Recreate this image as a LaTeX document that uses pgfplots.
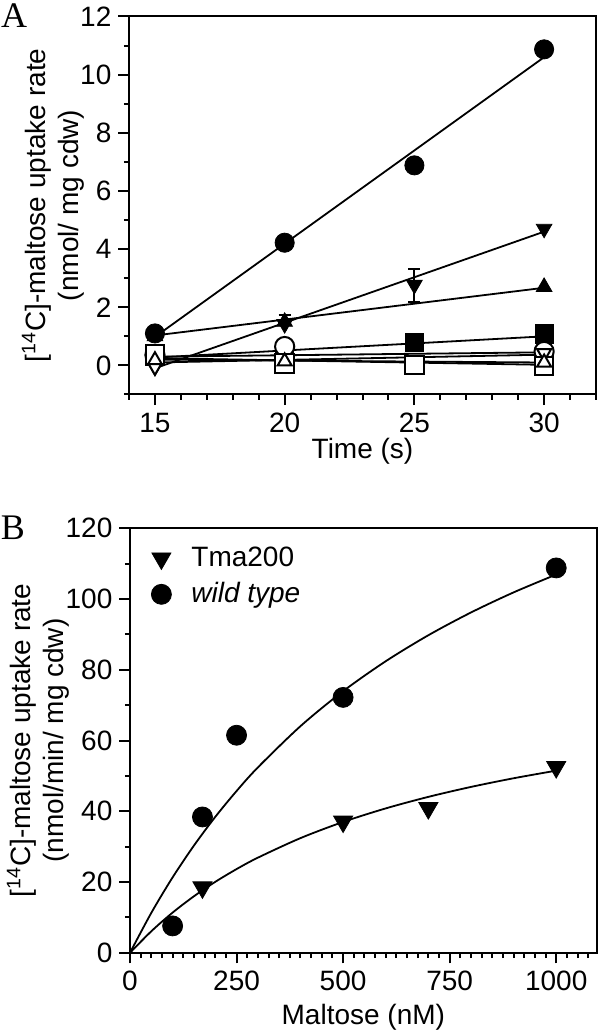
\documentclass[border=0pt]{standalone}
\usepackage{pgfplots}
\pgfplotsset{compat=1.18}
\usepackage{fontspec}
\setmainfont{Liberation Sans}
\newfontfamily\seriffont{Liberation Serif}
\begin{document}
\begin{tikzpicture}
\pgfplotsset{
  every axis/.append style={
    scale only axis,
    anchor=south west,
    axis line style={line width=1pt},
    every tick/.style={line width=1pt, black},
    tick align=outside,
    major tick length=5.3pt,
    minor tick length=2.6pt,
    tick pos=left,
    /pgf/number format/assume math mode=true,
    /pgf/number format/1000 sep={},
    tick label style={font=\fontsize{14}{15}\selectfont},
    clip=false,
  },
  fitline/.style={black, line width=0.9pt, mark=none, forget plot},
  ebar/.style={black, mark=none, forget plot, line width=0.9pt,
    error bars/.cd, y dir=both, y explicit,
    error bar style={line width=0.9pt, black},
    error mark options={rotate=90, mark size=3pt, line width=0.9pt, black}},
}
% ---------------- Panel A ----------------
\begin{axis}[at={(64.5pt,319.25pt)}, width=233.5pt, height=189pt,
  xmin=14, xmax=32, ymin=-1, ymax=12,
  xtick={15,20,25,30}, minor xtick={14,16,17,18,19,21,22,23,24,26,27,28,29,31,32},
  ytick={0,2,...,12}, minor ytick={-1,1,...,11},
  xticklabel style={yshift=-0.5pt},
  xlabel={Time (s)},
  ylabel={[\textsuperscript{14}C]-maltose uptake rate\\(nmol/ mg cdw)},
  every axis y label/.style={at={(axis description cs:-0.0942,0.5)}, rotate=90, anchor=south, align=center, inner sep=0pt, font=\fontsize{14}{16.5}\selectfont},
  every axis x label/.style={at={(axis description cs:0.5,-0.114)}, anchor=north, inner sep=0pt, font=\fontsize{14}{16.5}\selectfont},
]
% fit lines
\addplot[fitline] coordinates {(15,0.98) (30,10.6)};
\addplot[fitline] coordinates {(15,-0.1) (30,4.6)};
\addplot[fitline] coordinates {(15,1.03) (30,2.67)};
\addplot[fitline] coordinates {(15,0.27) (30,1.0)};
\addplot[fitline] coordinates {(15,0.3) (30,0.45)};
\addplot[fitline] coordinates {(15,0.1) (30,0.37)};
\addplot[fitline] coordinates {(15,0.2) (30,0.1)};
\addplot[fitline] coordinates {(15,0.25) (30,0.02)};
% error bars
\addplot[ebar] coordinates {(25,2.77) += (0,0.55) -= (0,0.6)};
\addplot[ebar] coordinates {(20,1.42) += (0,0.32) -= (0,0)};
\addplot[ebar] coordinates {(20,0.14) += (0,0.37) -= (0,0)};
% filled up triangle
\addplot[only marks, mark=triangle*, mark size=4.5pt, mark options={fill=black, draw=black}]
  coordinates {(15,1.0) (20,1.5) (30,2.7)};
% filled down triangle
\addplot[only marks, mark=triangle*, mark size=4.5pt, mark options={fill=black, draw=black, rotate=180}]
  coordinates {(15,-0.05) (20,1.42) (25,2.77) (30,4.7)};
% filled square
\addplot[only marks, mark=square*, mark size=4.6pt, mark options={fill=black, draw=black}]
  coordinates {(15,0.3) (20,0.25) (25,0.79) (30,1.08)};
% filled circle
\addplot[only marks, mark=*, mark size=4.8pt, mark options={fill=black, draw=black}]
  coordinates {(15,1.1) (20,4.22) (25,6.88) (30,10.87)};
% open circle
\addplot[only marks, mark=*, mark size=4.8pt, mark options={fill=white, draw=black, line width=1pt}]
  coordinates {(15,0.36) (20,0.65) (30,0.48)};
% open down triangle
\addplot[only marks, mark=triangle*, mark size=4pt, mark options={fill=white, draw=black, line width=1pt, rotate=180}]
  coordinates {(15,-0.05) (30,0.42)};
% open square
\addplot[only marks, mark=square*, mark size=4.6pt, mark options={fill=white, draw=black, line width=1pt}]
  coordinates {(15,0.38) (20,0.06) (25,0.02) (30,-0.03)};
% open triangle
\addplot[only marks, mark=triangle*, mark size=4pt, mark options={fill=white, draw=black, line width=1pt}]
  coordinates {(15,0.18) (20,0.14) (30,0.1)};
\end{axis}
% ---------------- Panel B ----------------
\begin{axis}[at={(65pt,40.1pt)}, width=233.35pt, height=212.25pt,
  xmin=0, xmax=1095, ymin=0, ymax=120,
  xtick={0,250,500,750,1000}, minor xtick={25,50,...,1075},
  ytick={0,20,...,120}, minor ytick={10,30,...,110},
  xlabel={Maltose (nM)},
  ylabel={[\textsuperscript{14}C]-maltose uptake rate\\(nmol/min/ mg cdw)},
  every axis y label/.style={at={(axis description cs:-0.1286,0.5)}, rotate=90, anchor=south, align=center, inner sep=0pt, font=\fontsize{14}{16.5}\selectfont},
  every axis x label/.style={at={(axis description cs:0.5,-0.119)}, anchor=north, inner sep=0pt, font=\fontsize{14}{16.5}\selectfont},
  legend style={at={(axis description cs:0.045,0.966)}, anchor=north west, draw=none, fill=none,
    font=\fontsize{14}{15}\selectfont, row sep=2.5pt, column sep=8pt, inner sep=0pt},
  legend cell align=left,
]
\addplot[fitline, smooth] coordinates {(0,0) (50,11.29) (100,21.33) (150,30.31) (200,38.41) (250,45.73) (300,52.40) (400,64.07) (500,73.95) (600,82.42) (700,89.77) (800,96.20) (900,101.88) (1000,106.93)};
\addplot[fitline, smooth] coordinates {(0,0) (50,6.09) (100,11.37) (150,15.98) (200,20.05) (250,23.66) (300,26.89) (400,32.42) (500,36.99) (600,40.82) (700,44.08) (800,46.89) (900,49.34) (1000,51.49)};
\addplot[only marks, mark=triangle*, mark size=5.5pt, mark options={fill=black, draw=black, rotate=180}]
  coordinates {(170,18.5) (500,37.1) (700,40.9) (1000,52.5)};
\addlegendentry{Tma200}
\addplot[only marks, mark=*, mark size=5pt, mark options={fill=black, draw=black}]
  coordinates {(100,7.6) (170,38.4) (250,61.5) (500,72.2) (1000,108.8)};
\addlegendentry{\textit{wild type}}
\end{axis}
\node[font=\seriffont\fontsize{18}{18}\selectfont] at (7pt,508.5pt) {A};
\node[font=\seriffont\fontsize{18}{18}\selectfont] at (6.5pt,252.5pt) {B};
\pgfresetboundingbox
\useasboundingbox (0pt,0pt) rectangle (300pt,516.5pt);
\end{tikzpicture}
\end{document}
